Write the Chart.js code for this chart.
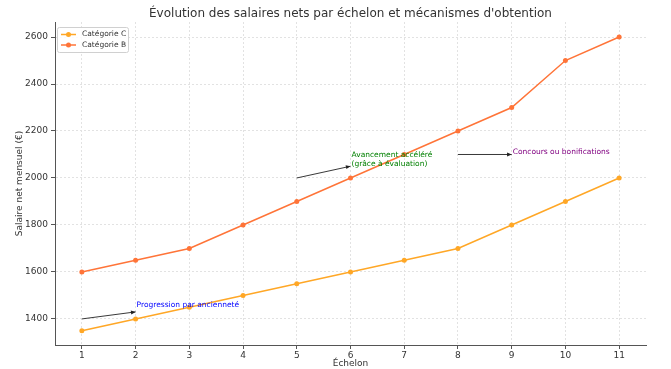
<!DOCTYPE html>
<html>
<head>
<meta charset="utf-8">
<script src="https://cdn.jsdelivr.net/npm/chart.js@4.4.0/dist/chart.umd.min.js"></script>
<style>
  html, body { margin: 0; padding: 0; background: #fff; }
  #wrap { width: 671px; height: 369px; }
</style>
</head>
<body>
<div id="wrap"><canvas id="myChart" width="671" height="369"></canvas></div>
<script>
// données
const echelons = [1, 2, 3, 4, 5, 6, 7, 8, 9, 10, 11];
const categorieC = [1350, 1400, 1450, 1500, 1550, 1600, 1650, 1700, 1800, 1900, 2000];
const categorieB = [1600, 1650, 1700, 1800, 1900, 2000, 2100, 2200, 2300, 2500, 2600];
const yTicks = [1400, 1600, 1800, 2000, 2200, 2400, 2600];

// annotations : flèche depuis -> vers, et position du texte (coordonnées de données)
const annotations = [
  { from: [1, 1400], to: [2, 1430], at: [2, 1450], text: ['Progression par ancienneté'], color: '#0000ff' },
  { from: [5, 2000], to: [6, 2050], at: [6, 2050], text: ['Avancement accéléré', '(grâce à évaluation)'], color: '#008000' },
  { from: [8, 2100], to: [9, 2100], at: [9, 2100], text: ['Concours ou bonifications'], color: '#800080' }
];

const titre = "Évolution des salaires nets par échelon et mécanismes d'obtention";
const couleurC = '#ffa726';
const couleurB = '#ff7438';

const font = 'DejaVu Sans';

// plugin maison pour titre, légende et flèches
const decor = {
  id: 'decor',
  afterDatasetsDraw(chart) {
    const ctx = chart.ctx;
    const x = chart.scales.x, y = chart.scales.y;
    const ca = chart.chartArea;

    // flèches + textes
    annotations.forEach(a => {
      const x1 = x.getPixelForValue(a.from[0]), y1 = y.getPixelForValue(a.from[1]);
      const x2 = x.getPixelForValue(a.to[0]), y2 = y.getPixelForValue(a.to[1]);
      ctx.save();
      ctx.strokeStyle = '#222';
      ctx.fillStyle = '#222';
      ctx.lineWidth = 0.9;
      ctx.beginPath();
      ctx.moveTo(x1, y1);
      ctx.lineTo(x2, y2);
      ctx.stroke();
      const ang = Math.atan2(y2 - y1, x2 - x1);
      ctx.beginPath();
      ctx.moveTo(x2, y2);
      ctx.lineTo(x2 - 5 * Math.cos(ang - 0.4), y2 - 5 * Math.sin(ang - 0.4));
      ctx.lineTo(x2 - 5 * Math.cos(ang + 0.4), y2 - 5 * Math.sin(ang + 0.4));
      ctx.closePath();
      ctx.fill();
      const tx = x.getPixelForValue(a.at[0]), ty = y.getPixelForValue(a.at[1]);
      ctx.fillStyle = a.color;
      ctx.font = '7.5px ' + font;
      ctx.textAlign = 'left';
      ctx.textBaseline = 'alphabetic';
      const n = a.text.length;
      a.text.forEach((t, i) => {
        ctx.fillText(t, tx + 1, ty - (n - 1 - i) * 9);
      });
      ctx.restore();
    });

    // légende
    ctx.save();
    const lx = ca.left + 2, ly = ca.top + 5;
    ctx.fillStyle = 'rgba(255,255,255,0.85)';
    ctx.strokeStyle = '#d0d0d0';
    ctx.lineWidth = 1;
    ctx.beginPath();
    ctx.roundRect(lx + 0.5, ly + 0.5, 71, 25, 2);
    ctx.fill();
    ctx.stroke();
    const items = [['Catégorie C', couleurC], ['Catégorie B', couleurB]];
    items.forEach((it, i) => {
      const yy = ly + 7.5 + i * 10.5;
      ctx.strokeStyle = it[1];
      ctx.fillStyle = it[1];
      ctx.lineWidth = 1.5;
      ctx.beginPath();
      ctx.moveTo(lx + 4, yy);
      ctx.lineTo(lx + 19, yy);
      ctx.stroke();
      ctx.beginPath();
      ctx.arc(lx + 11.5, yy, 2.5, 0, Math.PI * 2);
      ctx.fill();
      ctx.fillStyle = '#333';
      ctx.font = '7.5px ' + font;
      ctx.textBaseline = 'middle';
      ctx.fillText(it[0], lx + 25, yy);
    });

    // titre centré sur la zone du graphique
    ctx.fillStyle = '#333';
    ctx.font = '12px ' + font;
    ctx.textAlign = 'center';
    ctx.textBaseline = 'middle';
    ctx.fillText(titre, (ca.left + ca.right) / 2, 14);
    ctx.restore();
  }
};

const data = {
  datasets: [
    {
      label: 'Catégorie C',
      data: echelons.map((e, i) => ({ x: e, y: categorieC[i] })),
      borderColor: couleurC,
      backgroundColor: couleurC,
      borderWidth: 1.5,
      pointRadius: 2.5,
      pointBorderWidth: 0
    },
    {
      label: 'Catégorie B',
      data: echelons.map((e, i) => ({ x: e, y: categorieB[i] })),
      borderColor: couleurB,
      backgroundColor: couleurB,
      borderWidth: 1.5,
      pointRadius: 2.5,
      pointBorderWidth: 0
    }
  ]
};

const grille = {
  color: '#e2e2e2',
  tickColor: '#555',
  tickLength: 4,
  tickBorderDash: []
};

const config = {
  type: 'line',
  data: data,
  options: {
    responsive: false,
    animation: false,
    layout: { padding: { left: 0, right: 25, top: 22, bottom: 0 } },
    plugins: {
      legend: { display: false },
      title: { display: false },
      tooltip: { enabled: false }
    },
    scales: {
      x: {
        type: 'linear',
        min: 0.5,
        max: 11.5,
        afterBuildTicks: s => { s.ticks = echelons.map(v => ({ value: v })); },
        afterFit: s => { s.height = 24; },
        grid: grille,
        border: { display: true, color: '#555', width: 1, dash: [2, 2] },
        ticks: { color: '#333', font: { family: font, size: 9 }, padding: 1, maxRotation: 0, callback: v => String(v) },
        title: { display: true, text: 'Échelon', color: '#333', font: { family: font, size: 9 }, padding: 0 }
      },
      y: {
        min: 1289,
        max: 2664,
        afterBuildTicks: s => { s.ticks = yTicks.map(v => ({ value: v })); },
        afterFit: s => { s.width = 55; },
        grid: grille,
        border: { display: true, color: '#555', width: 1, dash: [2, 2] },
        ticks: { color: '#333', font: { family: font, size: 9 }, padding: 3, callback: v => String(v) },
        title: { display: true, text: 'Salaire net mensuel (€)', color: '#333', font: { family: font, size: 9 }, padding: { top: 14, bottom: 0 } }
      }
    }
  },
  plugins: [decor]
};

const myChart = new Chart(document.getElementById('myChart'), config);
</script>
</body>
</html>
